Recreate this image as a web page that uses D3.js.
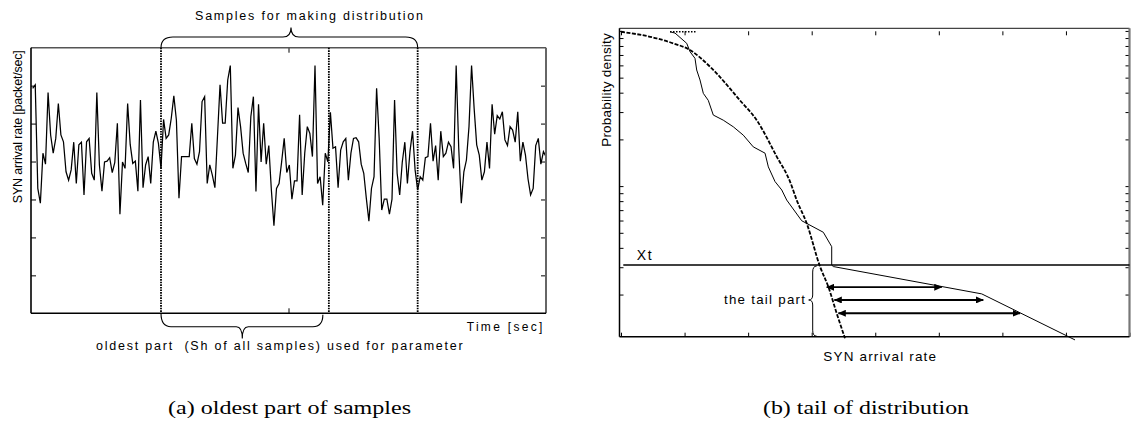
<!DOCTYPE html>
<html><head><meta charset="utf-8">
<script src="https://cdn.jsdelivr.net/npm/d3@7"></script>
<style>
body{margin:0;background:#fff}
svg{display:block;background:#fff}
text{font-family:"Liberation Sans",Arial,sans-serif;fill:#000}
.cap{font-family:"Liberation Serif","Times New Roman",serif}
</style>
</head><body>
<svg id="c" width="1132" height="437"></svg>
<script>
// ---------- Panel (a): SYN arrival rate time series ----------
const synRate = [
5.93,6.02,3.29,2.90,4.22,3.93,5.82,4.70,4.22,4.61,
5.53,4.70,4.52,3.73,3.51,3.78,4.51,3.42,4.44,4.51,
3.12,4.52,4.61,3.69,3.51,5.82,3.91,3.22,3.99,4.01,
4.10,3.71,3.98,5.01,2.61,3.99,3.82,5.53,4.45,3.95,
4.01,3.22,5.62,3.31,3.91,4.13,3.42,4.51,4.80,4.48,
3.82,5.11,4.61,4.70,5.14,5.73,5.09,3.03,4.13,4.13,
4.13,4.13,5.01,4.08,3.93,4.26,5.58,5.71,3.42,3.91,
3.64,3.31,4.66,6.02,5.01,5.01,6.15,6.53,3.82,4.17,
5.42,4.92,4.22,3.95,3.71,5.18,5.71,3.21,5.51,3.99,
5.01,3.93,4.42,3.25,2.31,3.29,3.42,3.99,4.61,3.71,
3.91,3.01,3.49,3.49,5.23,3.12,4.22,4.92,4.74,4.13,
6.53,3.42,3.60,2.85,4.22,3.99,5.30,4.35,4.39,3.31,
4.30,4.52,4.61,3.51,4.22,4.61,4.63,4.52,3.93,3.69,
3.03,2.43,3.29,3.60,5.93,4.61,2.72,3.01,3.01,2.61,
3.01,5.62,3.69,3.12,3.98,4.51,3.42,4.26,4.80,3.78,
3.25,3.60,3.51,4.10,4.13,5.01,4.01,4.42,3.51,4.80,
4.13,4.22,4.51,4.39,3.82,6.53,4.35,2.90,3.73,4.04,
4.92,6.53,5.40,4.44,4.17,3.51,3.73,4.51,3.82,5.51,
4.72,5.21,5.12,5.31,4.57,4.42,4.92,4.83,4.51,5.31,
4.01,4.51,4.17,3.54,3.12,3.29,4.42,4.61,3.93,4.26,
4.13];
const windowMarks = [50, 115.4, 150];          // sample index of dotted boundaries
const rateTicks = [1, 2, 3, 4, 5, 6];
const rateDomain = [0, 7];
const sampleDomain = [-0.65, 200];

// ---------- Panel (b): tail of distribution ----------
const fitX = [0, 0.562, 0.823, 1.086, 1.401, 1.872, 2.135, 2.450, 2.659, 2.764, 2.922, 3.131, 3.261, 3.394, 3.524];
const fitY = [9.88, 8.96, 8.32, 7.53, 5.88, 3.57, 2.66, 1.55, 1.07, 0.813, 0.575, 0.303, 0.225, 0.151, 0.1045];
const empX = [0.771, 0.850, 1.034, 1.086, 1.164, 1.191, 1.243, 1.295, 1.373, 1.452, 1.609, 1.767, 1.924, 2.081, 2.266, 2.318, 2.423, 2.529, 2.607, 2.843, 3.183, 3.315, 3.315, 3.340, 5.675, 7.143];
const empY = [9.88, 9.69, 8.32, 7.35, 6.66, 5.60, 4.83, 3.96, 3.57, 2.87, 2.66, 2.41, 2.13, 1.79, 1.63, 1.33, 1.07, 0.944, 0.813, 0.598, 0.504, 0.407, 0.310, 0.303, 0.202, 0.102];
const empTopX = [0.771, 1.196];
const empTopY = [9.88, 9.88];
const xtValue = 0.31;
const xtStart = 0.036;
const arrowY = [0.223, 0.1845, 0.1515];
const arrowFrom = [3.236, 3.356, 3.419];
const arrowTo = [5.046, 5.700, 6.278];
const rateBTicks = [0, 1, 2, 3, 4, 5, 6, 7, 8];
const densTicks = [0.2, 0.3, 0.4, 0.5, 0.6, 0.7, 0.8, 0.9, 1, 2, 3, 4, 5, 6, 7, 8, 9, 10];
const rateBDomain = [0, 8];
const densDomain = [0.107, 10.4];

const svg = d3.select("#c");
svg.append("rect").attr("width",1132).attr("height",437).attr("fill","#fff");

const defs = svg.append("defs");
defs.append("marker").attr("id","ah").attr("viewBox","0 0 8 7")
  .attr("markerWidth",8).attr("markerHeight",7).attr("refX",7.5).attr("refY",3.5)
  .attr("markerUnits","userSpaceOnUse").attr("orient","auto-start-reverse")
  .append("path").attr("d","M0,0L8,3.5L0,7z").attr("fill","#000");

function noDomain(g){ g.select(".domain").remove(); g.selectAll(".tick line").attr("stroke","#000"); }

// ===== Panel A =====
const A = {x0:31, x1:546, y0:47.7, y1:313.3};
const xA = d3.scaleLinear().domain(sampleDomain).range([A.x0, A.x1]);
const yA = d3.scaleLinear().domain(rateDomain).range([A.y1, A.y0]);
const gA = svg.append("g");

gA.append("g").attr("transform",`translate(${A.x0},0)`)
  .call(d3.axisLeft(yA).tickValues(rateTicks).tickSize(-5).tickFormat("")).call(noDomain);
gA.append("g").attr("transform",`translate(${A.x1},0)`)
  .call(d3.axisRight(yA).tickValues(rateTicks).tickSize(-5).tickFormat("")).call(noDomain);
const midA = (sampleDomain[0]+sampleDomain[1])/2;
gA.append("g").attr("transform",`translate(0,${A.y1})`)
  .call(d3.axisBottom(xA).tickValues([midA]).tickSize(-5).tickFormat("")).call(noDomain);
gA.append("g").attr("transform",`translate(0,${A.y0})`)
  .call(d3.axisTop(xA).tickValues([midA]).tickSize(-5).tickFormat("")).call(noDomain);

// series
gA.append("path").datum(synRate)
  .attr("d", d3.line().x((d,i)=>xA(i)).y(d=>yA(d)))
  .attr("fill","none").attr("stroke","#000").attr("stroke-width",1.25).attr("stroke-linejoin","miter");

// box
gA.append("line").attr("x1",A.x0).attr("x2",A.x1).attr("y1",A.y0).attr("y2",A.y0).attr("stroke","#555").attr("stroke-width",1.5);
gA.append("line").attr("x1",A.x1).attr("x2",A.x1).attr("y1",A.y0).attr("y2",A.y1).attr("stroke","#666").attr("stroke-width",2);
gA.append("line").attr("x1",A.x0).attr("x2",A.x0).attr("y1",A.y0).attr("y2",A.y1).attr("stroke","#000").attr("stroke-width",1.6);
gA.append("line").attr("x1",A.x0).attr("x2",A.x1).attr("y1",A.y1).attr("y2",A.y1).attr("stroke","#000").attr("stroke-width",1.6);

// dotted window boundaries
gA.selectAll(".wm").data(windowMarks).join("line")
  .attr("x1",d=>xA(d)).attr("x2",d=>xA(d)).attr("y1",A.y0).attr("y2",A.y1)
  .attr("stroke","#000").attr("stroke-width",1.8).attr("stroke-dasharray","1.6,1");

// braces
function hBrace(x1, x2, yEdge1, yEdge2, yLine, xTip, yTip, r, t){
  const s = Math.sign(yLine - yEdge1);
  return `M${x1},${yEdge1} Q${x1},${yLine} ${x1+r},${yLine} L${xTip-t},${yLine} Q${xTip},${yLine} ${xTip},${yTip} Q${xTip},${yLine} ${xTip+t},${yLine} L${x2-r},${yLine} Q${x2},${yLine} ${x2},${yEdge2}`;
}
gA.append("path").attr("d", hBrace(xA(windowMarks[0]), xA(windowMarks[2]), A.y0, A.y0, 37, 291, 27.5, 12, 8))
  .attr("fill","none").attr("stroke","#000").attr("stroke-width",1.1);
gA.append("path").attr("d", hBrace(xA(windowMarks[0]), xA(windowMarks[1])-6, A.y1, A.y1+1.5, 326.7, 242.3, 338.5, 10, 6))
  .attr("fill","none").attr("stroke","#000").attr("stroke-width",1.1);

// texts
gA.append("text").attr("x",195).attr("y",20).attr("font-size",12.5)
  .attr("textLength",228).attr("lengthAdjust","spacing").text("Samples for making distribution");
gA.append("text").attr("x",96).attr("y",350).attr("font-size",12.5).style("white-space","pre")
  .attr("textLength",366.7).attr("lengthAdjust","spacing").text("oldest part  (Sh of all samples) used for parameter");
gA.append("text").attr("x",466.7).attr("y",331).attr("font-size",12)
  .attr("textLength",75.6).attr("lengthAdjust","spacing").text("Time [sec]");
gA.append("text").attr("transform","translate(22,126.7) rotate(-90)").attr("text-anchor","middle")
  .attr("font-size",12.5).attr("textLength",153).attr("lengthAdjust","spacing").text("SYN arrival rate [packet/sec]");

// ===== Panel B =====
const B = {x0:619.5, x1:1129.5, y0:28.3, y1:336.7};
const xB = d3.scaleLinear().domain(rateBDomain).range([621, 1129.5]);
const yB = d3.scaleLog().domain(densDomain).range([B.y1, B.y0]);
const gB = svg.append("g");

gB.append("g").attr("transform",`translate(${B.x0},0)`)
  .call(d3.axisLeft(yB).tickValues(densTicks).tickSize(-4).tickFormat("")).call(noDomain);
gB.append("g").attr("transform",`translate(${B.x1},0)`)
  .call(d3.axisRight(yB).tickValues(densTicks).tickSize(-4).tickFormat("")).call(noDomain);
gB.append("g").attr("transform",`translate(0,${B.y1})`)
  .call(d3.axisBottom(xB).tickValues(rateBTicks).tickSize(-4).tickFormat("")).call(noDomain);
gB.append("g").attr("transform",`translate(0,${B.y0+3})`)
  .call(d3.axisTop(xB).tickValues(rateBTicks.slice(0,8)).tickSize(-4).tickFormat("")).call(noDomain);

// box
gB.append("line").attr("x1",B.x0).attr("x2",B.x1).attr("y1",B.y0).attr("y2",B.y0).attr("stroke","#444").attr("stroke-width",1.3);
gB.append("line").attr("x1",B.x1).attr("x2",B.x1).attr("y1",B.y0).attr("y2",B.y1).attr("stroke","#777").attr("stroke-width",2.2);
gB.append("line").attr("x1",B.x0).attr("x2",B.x0).attr("y1",B.y0).attr("y2",B.y1).attr("stroke","#000").attr("stroke-width",1.5);
gB.append("line").attr("x1",B.x0).attr("x2",B.x1).attr("y1",B.y1).attr("y2",B.y1).attr("stroke","#000").attr("stroke-width",1.5);

// Xt line
gB.append("line").attr("x1",xB(xtStart)).attr("x2",B.x1).attr("y1",yB(xtValue)).attr("y2",yB(xtValue))
  .attr("stroke","#000").attr("stroke-width",1.4);

// fitted distribution (dashed)
const fitData = fitX.map((x,i)=>[x, fitY[i]]);
gB.append("path").datum(fitData)
  .attr("d", d3.line().x(d=>xB(d[0])).y(d=>yB(d[1])).curve(d3.curveMonotoneX))
  .attr("fill","none").attr("stroke","#000").attr("stroke-width",1.8).attr("stroke-dasharray","4,1.5");

// empirical distribution
const empData = empX.map((x,i)=>[x, empY[i]]);
gB.append("path").datum(empData)
  .attr("d", d3.line().x(d=>xB(d[0])).y(d=>yB(d[1])))
  .attr("fill","none").attr("stroke","#000").attr("stroke-width",1);
const empTop = empTopX.map((x,i)=>[x, empTopY[i]]);
gB.append("path").datum(empTop)
  .attr("d", d3.line().x(d=>xB(d[0])).y(d=>yB(d[1])))
  .attr("fill","none").attr("stroke","#000").attr("stroke-width",1.3).attr("stroke-dasharray","1.5,1.5");

// arrows
gB.selectAll(".arr").data(arrowY).join("line")
  .attr("x1",(d,i)=>xB(arrowFrom[i])).attr("x2",(d,i)=>xB(arrowTo[i]))
  .attr("y1",d=>yB(d)).attr("y2",d=>yB(d))
  .attr("stroke","#000").attr("stroke-width",1.8)
  .attr("marker-start","url(#ah)").attr("marker-end","url(#ah)");

// vertical brace for tail part
(function(){
  const xb = 812.7, yt = yB(xtValue)+1, yb = B.y1 - 0.5, ym = yB(arrowY[1]);
  const d = `M${xb+4},${yt} Q${xb},${yt} ${xb},${yt+6} L${xb},${ym-5} Q${xb},${ym} ${xb-4},${ym} Q${xb},${ym} ${xb},${ym+5} L${xb},${yb-6} Q${xb},${yb} ${xb+4},${yb}`;
  gB.append("path").attr("d",d).attr("fill","none").attr("stroke","#000").attr("stroke-width",1);
})();

// texts
gB.append("text").attr("x",636.7).attr("y",260).attr("font-size",14).attr("textLength",15).text("Xt");
gB.append("text").attr("x",724).attr("y",304).attr("font-size",13.3)
  .attr("textLength",81).attr("lengthAdjust","spacing").text("the tail part");
gB.append("text").attr("x",823.3).attr("y",361).attr("font-size",13.5)
  .attr("textLength",112.7).attr("lengthAdjust","spacing").text("SYN arrival rate");
gB.append("text").attr("transform","translate(610.5,90) rotate(-90)").attr("text-anchor","middle")
  .attr("font-size",13.5).attr("textLength",113.7).attr("lengthAdjust","spacing").text("Probability density");

// captions
svg.append("text").attr("class","cap").attr("x",168).attr("y",414).attr("font-size",18)
  .attr("textLength",243).attr("lengthAdjust","spacingAndGlyphs").text("(a) oldest part of samples");
svg.append("text").attr("class","cap").attr("x",763).attr("y",414).attr("font-size",18)
  .attr("textLength",206).attr("lengthAdjust","spacingAndGlyphs").text("(b) tail of distribution");
</script>
</body></html>
